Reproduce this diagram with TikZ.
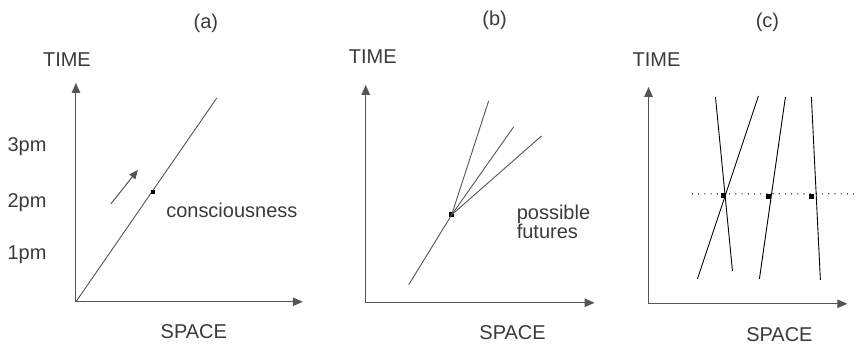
\documentclass[tikz,border=0pt]{standalone}
\usepackage{fontspec}
\setmainfont{Liberation Sans}
\usetikzlibrary{arrows.meta}
\definecolor{ln}{HTML}{555555}
\definecolor{tx}{HTML}{3A3A3A}
\begin{document}
\begin{tikzpicture}[x=1pt,y=-1pt,
  lbl/.style={text=tx,font=\fontsize{20}{22}\selectfont,inner sep=0pt},
  axis/.style={draw=ln,line width=1.1pt,-{Triangle[length=10pt,width=8.5pt]}},
  wl/.style={draw=ln,line width=0.9pt},
  wd/.style={draw=black,line width=0.9pt},
  ev/.style={fill=black,minimum size=5pt,inner sep=0pt},
  dot/.style={draw=black,line width=1.3pt,line cap=round,dash pattern=on 0pt off 6.2pt}]
\fill[white] (0,0) rectangle (858,346);
% ---------- (a)
\node[lbl] (ta) at (206,23) {(a)};
\coordinate (oa) at (76,302);
\coordinate (ya) at (76,83);
\coordinate (xa) at (303,302);
\draw[axis] (oa) -- (ya);
\draw[axis] (oa) -- (xa);
\node[lbl] (timea) at (67,60) {TIME};
\node[lbl] (spacea) at (194,332) {SPACE};
\node[lbl] (p3) at (27,147) {3pm};
\node[lbl] (p2) at (27,203) {2pm};
\node[lbl] (p1) at (27,255) {1pm};
\coordinate (wa) at (217,98);
\draw[wl] (oa) -- (wa);
\node[ev,minimum size=4pt] (da) at (153,192) {};
\coordinate (sa1) at (111,204);
\coordinate (sa2) at (138,170);
\draw[draw=ln,line width=1pt,-{Triangle[length=9pt,width=7.5pt]}] (sa1) -- (sa2);
\node[lbl] (cons) at (232,211) {consciousness};
% ---------- (b)
\node[lbl] (tb) at (495,20) {(b)};
\coordinate (ob) at (366,303);
\coordinate (yb) at (366,85);
\coordinate (xb) at (595,303);
\draw[axis] (ob) -- (yb);
\draw[axis] (ob) -- (xb);
\node[lbl] (timeb) at (373,57) {TIME};
\node[lbl] (spaceb) at (513,333) {SPACE};
\coordinate (b0) at (409,285);
\node[ev] (db) at (452,215) {};
\coordinate (b1) at (489,101);
\coordinate (b2) at (514,127);
\coordinate (b3) at (542,136);
\draw[wl] (b0) -- (db.center);
\draw[wl] (db.center) -- (b1);
\draw[wl] (db.center) -- (b2);
\draw[wl] (db.center) -- (b3);
\node[lbl,align=left,anchor=west] (fut) at (517,222) {possible\\[-3pt]futures};
% ---------- (c)
\node[lbl] (tc) at (768,22) {(c)};
\coordinate (oc) at (649,304);
\coordinate (yc) at (649,87);
\coordinate (xc) at (848,304);
\draw[axis] (oc) -- (yc);
\draw[axis] (oc) -- (xc);
\node[lbl] (timec) at (657,60) {TIME};
\node[lbl] (spacec) at (780,335) {SPACE};
\coordinate (h1) at (693,194);
\coordinate (h2) at (858,194);
\draw[dot] (h1) -- (h2);
\coordinate (c1a) at (716,97);  \coordinate (c1b) at (733,271);
\coordinate (c2a) at (698,279); \coordinate (c2b) at (759,96);
\coordinate (c3a) at (760,279); \coordinate (c3b) at (786,97);
\coordinate (c4a) at (812,97);  \coordinate (c4b) at (821,280);
\draw[wd] (c1a) -- (c1b);
\draw[wd] (c2a) -- (c2b);
\draw[wd] (c3a) -- (c3b);
\draw[wd] (c4a) -- (c4b);
\node[ev] (dc1) at (724,196) {};
\node[ev] (dc2) at (769,197) {};
\node[ev] (dc3) at (812,197) {};
\end{tikzpicture}
\end{document}
